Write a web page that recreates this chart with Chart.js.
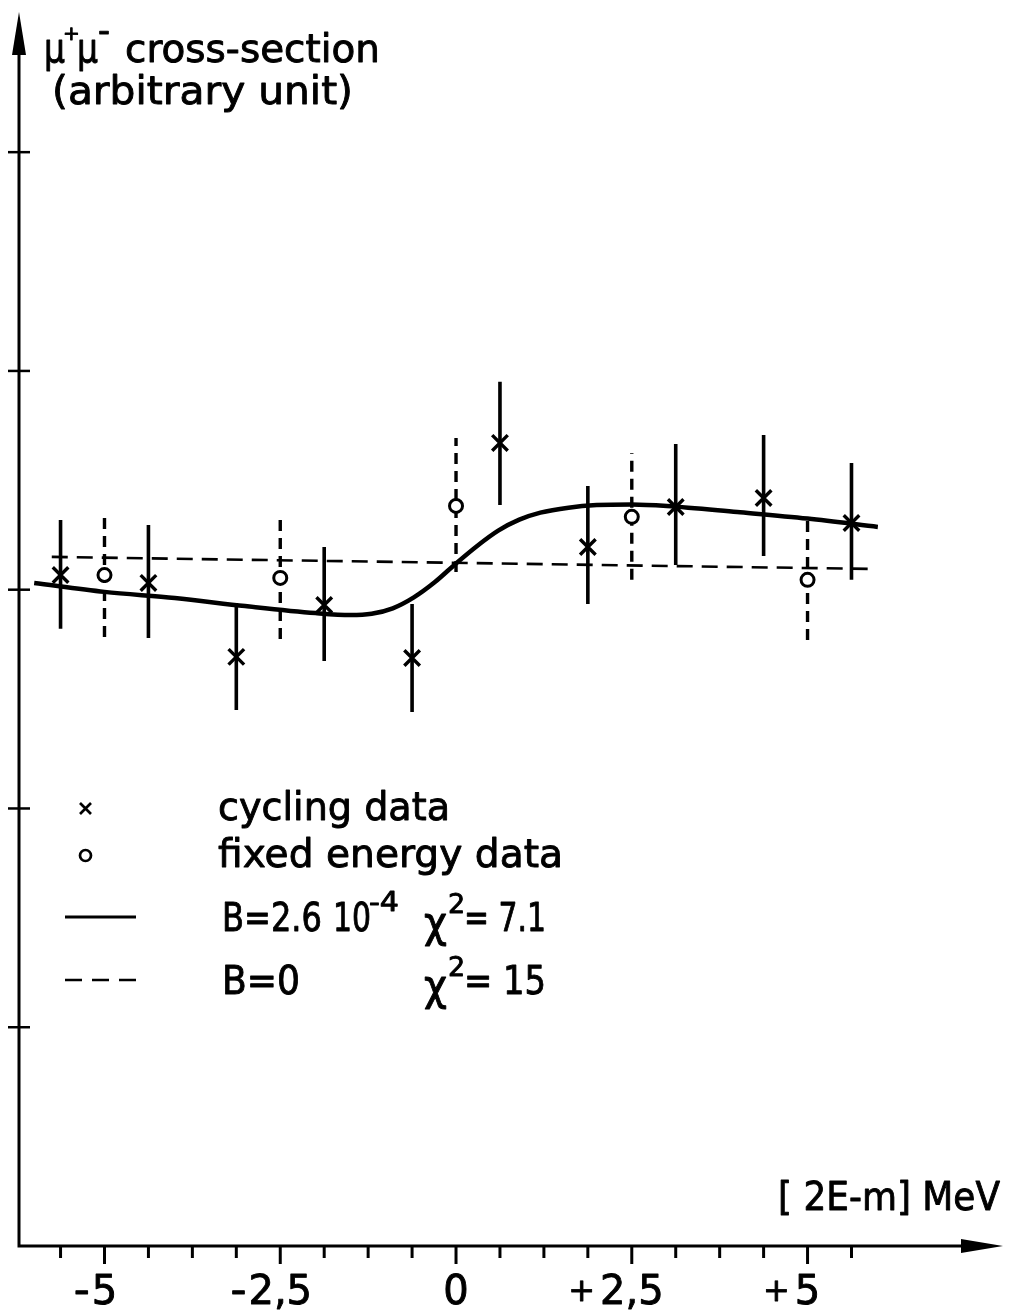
<!DOCTYPE html>
<html>
<head>
<meta charset="utf-8">
<title>mu+ mu- cross-section vs 2E-m</title>
<script src="https://cdn.jsdelivr.net/npm/chart.js@4/dist/chart.umd.min.js"></script>
<style>
  html, body { margin: 0; padding: 0; background: #ffffff; overflow: hidden; }
  #wrap { width: 1011px; height: 1316px; position: relative; }
</style>
</head>
<body>
<div id="wrap"><canvas id="c" width="1011" height="1316"></canvas></div>
<script>
// ---- measurements: [2E-m] in MeV, cross-section in arbitrary units ----
const cyclingX  = [-5.625, -4.375, -3.125, -1.875, -0.625, 0.625, 1.875, 3.125, 4.375, 5.625];
const cyclingY  = [3.067, 3.031, 2.693, 2.930, 2.688, 3.671, 3.195, 3.378, 3.419, 3.305];
const cyclingLo = [2.821, 2.779, 2.450, 2.674, 2.441, 3.387, 2.935, 3.113, 3.154, 3.045];
const cyclingHi = [3.319, 3.296, 2.939, 3.195, 2.935, 3.950, 3.474, 3.666, 3.707, 3.579];

const fixedX  = [-5, -2.5, 0, 2.5, 5];
const fixedY  = [3.067, 3.054, 3.383, 3.333, 3.045];
const fixedLo = [2.784, 2.775, 3.081, 3.045, 2.770];
const fixedHi = [3.333, 3.333, 3.694, 3.625, 3.328];

// fit with B = 2.6e-4
const fitX = [-6.0, -5.0, -4.0, -3.0, -2.0, -1.5, -1.2, -0.9, -0.6, -0.3, 0.0,
              0.3, 0.6, 0.9, 1.2, 1.6, 2.0, 2.5, 3.0, 4.0, 5.0, 6.0];
const fitY = [3.031, 2.990, 2.962, 2.925, 2.893, 2.884, 2.890, 2.915, 2.965, 3.035, 3.120,
              3.200, 3.270, 3.320, 3.352, 3.375, 3.387, 3.390, 3.383, 3.355, 3.325, 3.287];

// fit with B = 0
const flatX = [-5.75, 5.87];
const flatY = [3.150, 3.095];

// axis ticks
const xMajorTicks  = [-5, -2.5, 0, 2.5, 5];
const xMajorLabels = ['-5', '-2,5', '0', '+2,5', '+5'];
const xMinorTicks  = [-5.625, -4.375, -3.75, -3.125, -1.875, -1.25, -0.625,
                      0.625, 1.25, 1.875, 3.125, 3.75, 4.375, 5.625];
const yTicks = [1, 2, 3, 4, 5];

const INK = '#000000';
const FONT = '"DejaVu Sans", "Liberation Sans", sans-serif';

// vertical error bars as broken polylines (null breaks the line)
function barSegments(xs, lo, hi) {
  const out = [];
  xs.forEach((x, i) => {
    out.push({ x: x, y: lo[i] }, { x: x, y: hi[i] }, { x: x, y: null });
  });
  return out;
}
const pts = (xs, ys) => xs.map((x, i) => ({ x: x, y: ys[i] }));

// text with optional horizontal fit and a light outline for a heavier stroke
function text(ctx, s, x, y, size, width, align) {
  ctx.save();
  ctx.font = size + 'px ' + FONT;
  const m = ctx.measureText(s).width;
  const k = width ? width / m : 1;
  ctx.translate(x, y);
  ctx.scale(k, 1);
  ctx.textAlign = align || 'left';
  ctx.textBaseline = 'alphabetic';
  ctx.fillStyle = INK;
  ctx.strokeStyle = INK;
  ctx.lineWidth = 0.9;
  ctx.lineJoin = 'round';
  ctx.fillText(s, 0, 0);
  ctx.strokeText(s, 0, 0);
  ctx.restore();
  return m * k;
}

const axesPlugin = {
  id: 'handAxes',
  beforeDatasetsDraw(chart) {
    const ctx = chart.ctx;
    const xs = chart.scales.x, ys = chart.scales.y;
    const x0 = xs.left, yb = ys.bottom;
    ctx.save();
    ctx.strokeStyle = INK;
    ctx.fillStyle = INK;
    ctx.lineWidth = 3;
    ctx.lineCap = 'butt';
    // axis lines
    ctx.beginPath();
    ctx.moveTo(x0, ys.top + 30);
    ctx.lineTo(x0, yb);
    ctx.lineTo(xs.right - 30, yb);
    ctx.stroke();
    // arrow heads
    ctx.beginPath();
    ctx.moveTo(x0, ys.top - 3);
    ctx.lineTo(x0 - 7, ys.top + 40);
    ctx.lineTo(x0 + 7, ys.top + 40);
    ctx.closePath();
    ctx.fill();
    ctx.beginPath();
    ctx.moveTo(xs.right, yb);
    ctx.lineTo(xs.right - 42, yb - 7);
    ctx.lineTo(xs.right - 42, yb + 7);
    ctx.closePath();
    ctx.fill();
    // y ticks crossing the axis
    ctx.lineWidth = 2.5;
    yTicks.forEach(v => {
      const p = ys.getPixelForValue(v);
      ctx.beginPath();
      ctx.moveTo(x0 - 11, p);
      ctx.lineTo(x0 + 11, p);
      ctx.stroke();
    });
    // x ticks below the axis
    ctx.lineWidth = 3;
    xMinorTicks.forEach(v => {
      const p = xs.getPixelForValue(v);
      ctx.beginPath();
      ctx.moveTo(p, yb);
      ctx.lineTo(p, yb + 12);
      ctx.stroke();
    });
    xMajorTicks.forEach(v => {
      const p = xs.getPixelForValue(v);
      ctx.beginPath();
      ctx.moveTo(p, yb);
      ctx.lineTo(p, yb + 18);
      ctx.stroke();
    });
    ctx.restore();
  },
  afterDraw(chart) {
    const ctx = chart.ctx;
    const xs = chart.scales.x, ys = chart.scales.y;

    // x tick labels: numeric part centred on the tick, sign set in front
    xMajorLabels.forEach((lab, i) => {
      const p = xs.getPixelForValue(xMajorTicks[i]);
      const sign = (lab[0] === '-' || lab[0] === '+') ? lab[0] : '';
      const num = sign ? lab.slice(1) : lab;
      ctx.font = '40px ' + FONT;
      const w = ctx.measureText(num).width;
      text(ctx, num, p, ys.bottom + 58, 40, null, 'center');
      if (sign === '-') text(ctx, '-', p - w / 2 - 2, ys.bottom + 58, 40, 16, 'right');
      if (sign === '+') text(ctx, '+', p - w / 2 - 5, ys.bottom + 55, 32, null, 'right');
    });

    // x axis title
    text(ctx, '[ 2E-m] MeV', 778, 1210, 39, 222);

    // y axis title
    text(ctx, 'μ', 44, 62, 40, 21);
    text(ctx, '+', 63, 40, 20);
    text(ctx, 'μ', 77, 62, 40, 21);
    text(ctx, '-', 98, 42, 36, 12);
    text(ctx, 'cross-section', 125, 62, 39, 255);
    text(ctx, '(arbitrary unit)', 52, 104, 39, 301);

    // legend
    ctx.save();
    ctx.strokeStyle = INK;
    ctx.lineWidth = 2.7;
    ctx.beginPath();
    ctx.moveTo(80, 803); ctx.lineTo(91, 814);
    ctx.moveTo(91, 803); ctx.lineTo(80, 814);
    ctx.stroke();
    ctx.beginPath();
    ctx.arc(85.5, 855.5, 5.5, 0, Math.PI * 2);
    ctx.stroke();
    ctx.lineWidth = 3.2;
    ctx.beginPath();
    ctx.moveTo(65, 917); ctx.lineTo(136, 917);
    ctx.stroke();
    ctx.lineWidth = 2.5;
    ctx.setLineDash([17, 10]);
    ctx.beginPath();
    ctx.moveTo(65, 980); ctx.lineTo(138, 980);
    ctx.stroke();
    ctx.restore();

    text(ctx, 'cycling data', 218, 820, 39, 232);
    text(ctx, 'fixed energy data', 218, 867, 39, 345);
    text(ctx, 'B=2.6', 222, 931, 39, 100);
    text(ctx, '10', 333, 931, 39, 38);
    text(ctx, '-4', 369, 911, 26, 30);
    text(ctx, 'χ', 424, 937, 42, 23);
    text(ctx, '2', 448, 913, 27);
    text(ctx, '= 7.1', 464, 931, 39, 82);
    text(ctx, 'B=0', 222, 994, 39, 78);
    text(ctx, 'χ', 424, 1000, 42, 23);
    text(ctx, '2', 448, 976, 27);
    text(ctx, '= 15', 464, 994, 39, 82);
  }
};

new Chart(document.getElementById('c'), {
  type: 'line',
  data: {
    datasets: [
      { // fixed energy points
        data: pts(fixedX, fixedY), showLine: false,
        pointStyle: 'circle', pointRadius: 6.5, pointBorderWidth: 3,
        pointBorderColor: INK, pointBackgroundColor: '#ffffff', borderColor: INK
      },
      { // cycling points
        data: pts(cyclingX, cyclingY), showLine: false,
        pointStyle: 'crossRot', pointRadius: 11, pointBorderWidth: 3.4,
        pointBorderColor: INK, borderColor: INK
      },
      { // fixed energy error bars
        data: barSegments(fixedX, fixedLo, fixedHi), spanGaps: false,
        borderColor: INK, borderWidth: 3.4, borderDash: [11, 7], pointRadius: 0, tension: 0
      },
      { // cycling error bars
        data: barSegments(cyclingX, cyclingLo, cyclingHi), spanGaps: false,
        borderColor: INK, borderWidth: 3.6, pointRadius: 0, tension: 0
      },
      { // B = 0
        data: pts(flatX, flatY), borderColor: INK, borderWidth: 2.6,
        borderDash: [16, 9], pointRadius: 0, tension: 0
      },
      { // B = 2.6e-4
        data: pts(fitX, fitY), borderColor: INK, borderWidth: 4.5,
        pointRadius: 0, cubicInterpolationMode: 'monotone'
      }
    ]
  },
  options: {
    responsive: false,
    animation: false,
    events: [],
    layout: { autoPadding: false, padding: { left: 19, right: 8, top: 15, bottom: 70 } },
    plugins: { legend: { display: false }, tooltip: { enabled: false } },
    scales: {
      x: { type: 'linear', display: false, min: -6.216, max: 7.78 },
      y: { type: 'linear', display: false, min: 0, max: 5.627 }
    }
  },
  plugins: [axesPlugin]
});
</script>
</body>
</html>
